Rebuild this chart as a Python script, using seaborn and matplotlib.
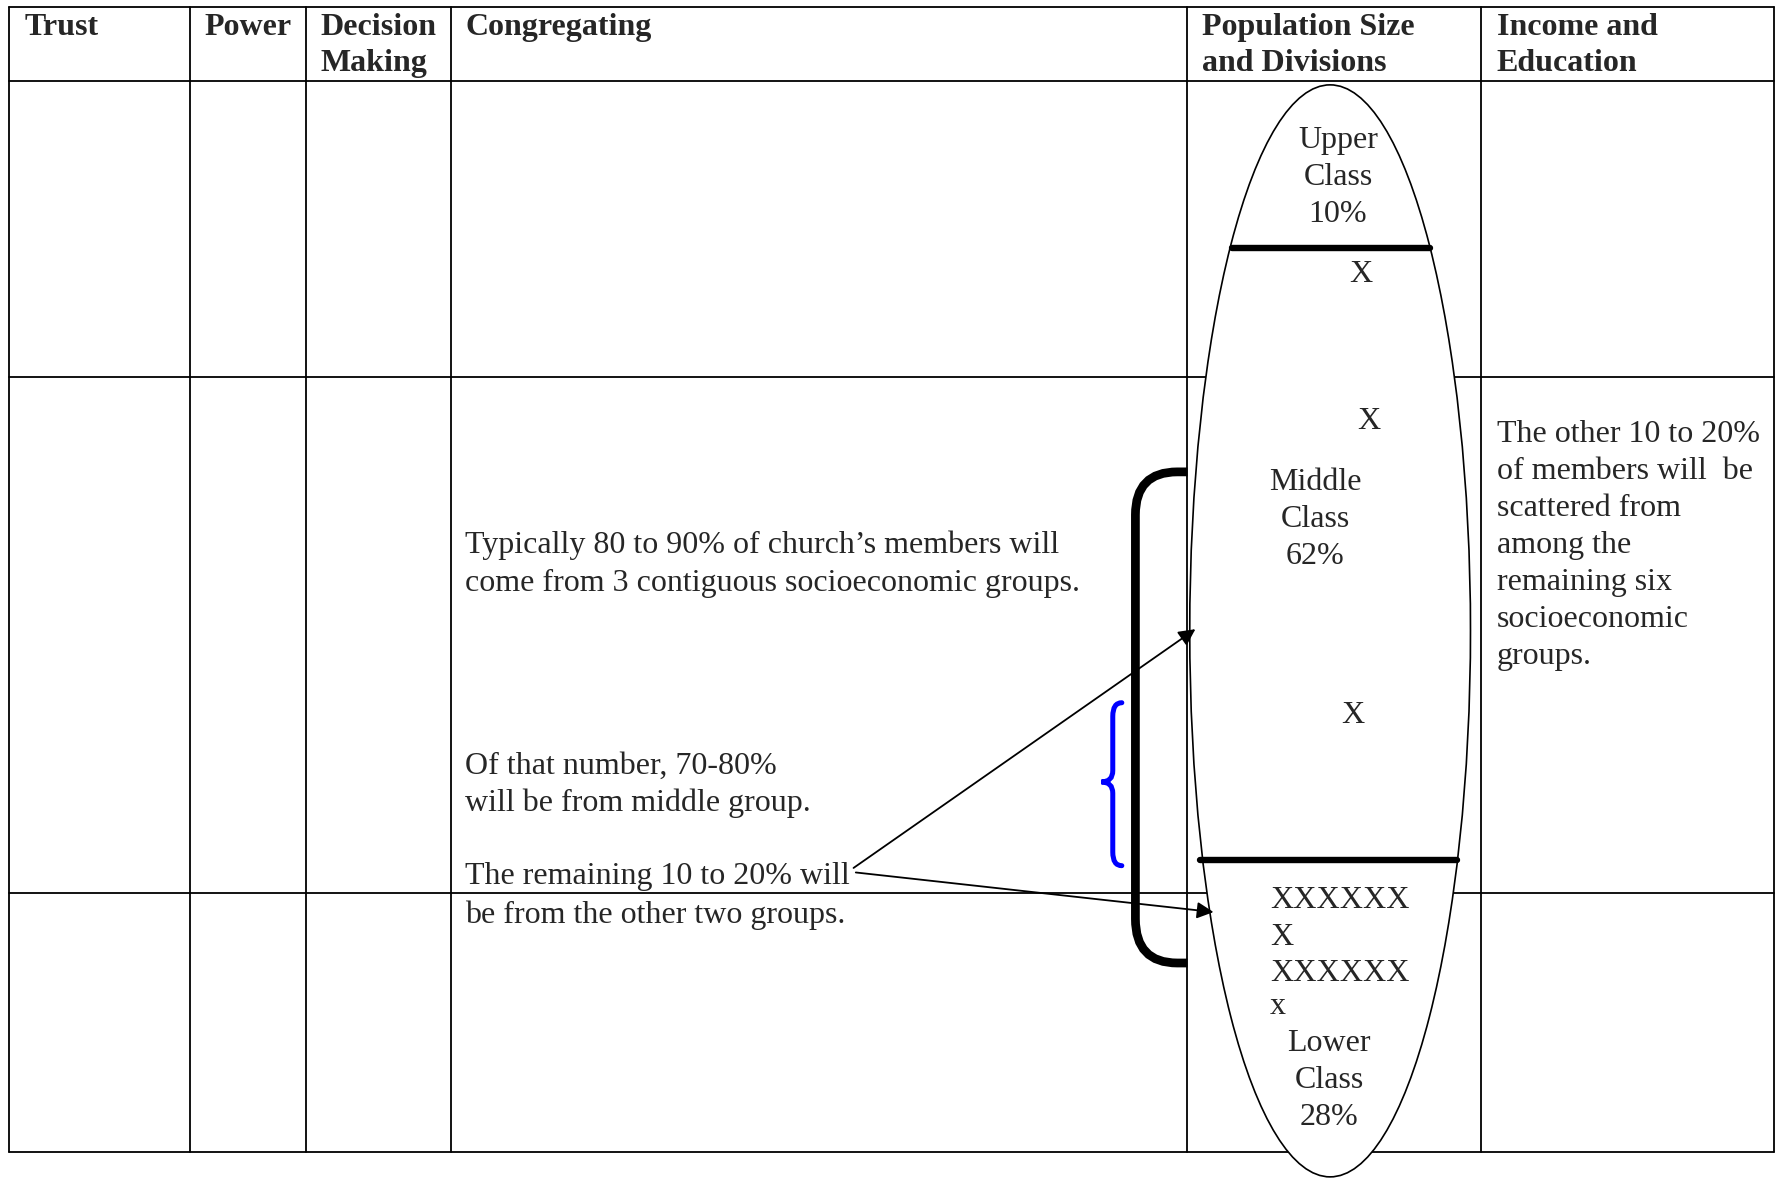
import matplotlib
matplotlib.use("Agg")
import matplotlib.pyplot as plt
import seaborn as sns
import pandas as pd
from matplotlib.patches import Ellipse, PathPatch
from matplotlib.path import Path

# Content of the diagram
headers = ["Trust", "Power", "Decision\nMaking", "Congregating",
           "Population Size\nand Divisions", "Income and\nEducation"]
class_names = ["Upper", "Middle", "Lower"]
class_shares = [10, 62, 28]
congregating_notes = [
    "Typically 80 to 90% of church\u2019s members will",
    "come from 3 contiguous socioeconomic groups.",
    "Of that number, 70-80%",
    "will be from middle group.",
    "The remaining 10 to 20% will",
    "be from the other two groups.",
]
income_notes = ["The other 10 to 20%", "of members will  be", "scattered from",
                "among the", "remaining six", "socioeconomic", "groups."]
lower_marks = ["XXXXXX", "X", "XXXXXX", "x"]

sns.set_theme(style="white")
plt.rcParams["font.family"] = ["Liberation Serif", "DejaVu Serif"]

fig = plt.figure(figsize=(17.75, 11.78), dpi=100)
ax = fig.add_axes([0, 0, 1, 1])
ax.set_xlim(0, 1568)
ax.set_ylim(1041, 0)
ax.axis("off")

FS = 23
HFS = 23

# table grid
col_x = [8, 168, 270, 398, 1049, 1308, 1567]
row_y = [6, 72, 333, 789, 1018]
for x in col_x:
    ax.plot([x, x], [row_y[0], row_y[-1]], color="black", lw=1.3, zorder=1)
for y in row_y:
    ax.plot([col_x[0], col_x[-1]], [y, y], color="black", lw=1.3, zorder=1)

# headers
head_x = [22, 181, 283, 411, 1062, 1322]
for x, h in zip(head_x, headers):
    for i, line in enumerate(h.split("\n")):
        ax.text(x, 31 + 32 * i, line, fontsize=HFS, fontweight="bold",
                ha="left", va="baseline", zorder=5)

# population ellipse
ell = Ellipse((1175, 557.5), 248, 965, facecolor="white", edgecolor="black",
              lw=1.2, zorder=2)
ax.add_patch(ell)

# class divisions
div = pd.DataFrame({"x": [1088, 1263, 1060, 1287],
                    "y": [219, 219, 760, 760],
                    "line": ["upper", "upper", "lower", "lower"]})
for _, g in div.groupby("line"):
    sns.lineplot(data=g, x="x", y="y", color="black", lw=4.6, ax=ax,
                 estimator=None, sort=False, zorder=3)
ax.set_xlim(0, 1568)
ax.set_ylim(1041, 0)
ax.axis("off")

# class labels
class_pos = {"Upper": (1182, 131), "Middle": (1162, 433), "Lower": (1174, 929)}
for name, share in zip(class_names, class_shares):
    cx, by = class_pos[name]
    for i, line in enumerate([name, "Class", f"{share}%"]):
        ax.text(cx, by + 32.5 * i, line, fontsize=FS, ha="center",
                va="baseline", zorder=5)

for x, y in [(1202, 249), (1209, 379), (1195, 639)]:
    ax.text(x, y, "X", fontsize=FS, ha="center", va="baseline", zorder=5)
for y, m in zip([802, 835, 867, 896], lower_marks):
    ax.text(1122, y, m, fontsize=FS, ha="left", va="baseline", zorder=5)

# congregating notes
for y, t in zip([489, 522, 684, 717, 781, 816], congregating_notes):
    ax.text(411, y, t, fontsize=FS, ha="left", va="baseline", zorder=5)

# income notes
for i, t in enumerate(income_notes):
    ax.text(1322, 391 + 32.6 * i, t, fontsize=FS, ha="left", va="baseline",
            zorder=5)

# black bracket around three groups
br = Path([(1049, 417), (1040, 417), (1003, 417), (1003, 455),
           (1003, 812), (1003, 851), (1040, 851), (1049, 851)],
          [Path.MOVETO, Path.LINETO, Path.CURVE3, Path.CURVE3,
           Path.LINETO, Path.CURVE3, Path.CURVE3, Path.LINETO])
ax.add_patch(PathPatch(br, facecolor="none", edgecolor="black", lw=6.3,
                       capstyle="butt", zorder=4))

# blue brace
brace = Path([(991, 621), (983, 621), (983, 633),
              (983, 681), (983, 691), (973, 691),
              (983, 691), (983, 701),
              (983, 753), (983, 765), (991, 765)],
             [Path.MOVETO, Path.CURVE3, Path.CURVE3,
              Path.LINETO, Path.CURVE3, Path.CURVE3,
              Path.CURVE3, Path.CURVE3,
              Path.LINETO, Path.CURVE3, Path.CURVE3])
ax.add_patch(PathPatch(brace, facecolor="none", edgecolor="#0000ff", lw=3.6,
                       capstyle="round", zorder=4))

# arrows
for tip, start in [((1056, 556), (754, 767)), ((1072, 806), (756, 771))]:
    ax.annotate("", xy=tip, xytext=start,
                arrowprops=dict(arrowstyle="-|>", color="black", lw=1.3,
                                mutation_scale=25, shrinkA=0, shrinkB=0),
                zorder=6)

fig.savefig("out.png", dpi=100)
